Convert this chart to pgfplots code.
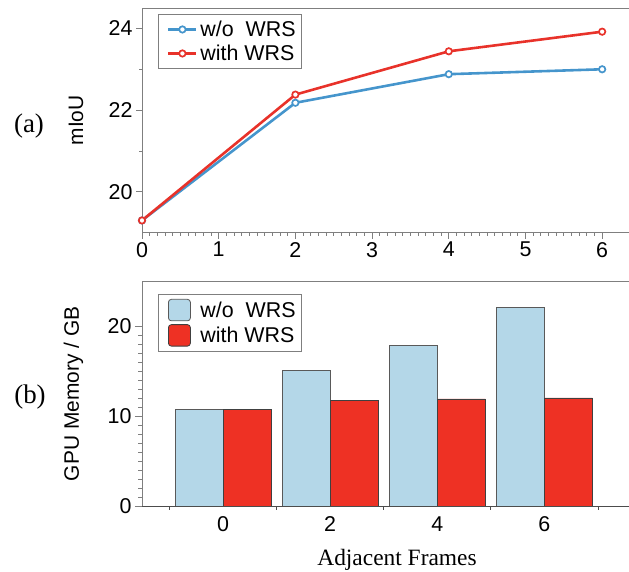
\documentclass[border=0pt]{standalone}
\usepackage{fontspec}
\setmainfont{Liberation Sans}
\newfontfamily\serif{Liberation Serif}
\usepackage{pgfplots}
\pgfplotsset{compat=1.18}
\definecolor{lblue}{HTML}{4595CC}
\definecolor{lred}{HTML}{E8322A}
\definecolor{bblue}{HTML}{B4D7E8}
\definecolor{bred}{HTML}{EE3124}
\definecolor{axgray}{HTML}{7F7F7F}
\begin{document}
\begin{tikzpicture}
\useasboundingbox (0bp,0bp) rectangle (629bp,572bp);
\pgfplotsset{
  common/.style={
    scale only axis,
    /pgf/number format/assume math mode=true,
    tick label style={font=\fontsize{21.5}{24}\selectfont},
    label style={font=\fontsize{21}{24}\selectfont},
    legend style={font=\fontsize{21.5}{24}\selectfont, draw=axgray, line width=0.8pt,
      inner xsep=4bp, inner ysep=4.5bp, row sep=3bp, legend cell align=left},
    tick align=outside,
    axis x line*=bottom, axis y line*=left,
    x axis line style={black!70, line width=0.8pt},
    y axis line style={axgray, line width=0.8pt},
    every tick/.style={axgray, line width=0.8pt},
  }
}
% ---------- (a) ----------
\begin{axis}[common,
  at={(142bp,339.3bp)}, anchor=south west,
  width=487bp, height=224.7bp,
  xmin=0, xmax=6.35, ymin=19, ymax=24.5,
  xtick={0,1,2,3,4,5,6}, minor x tick num=9,
  ytick={20,22,24}, minor y tick num=1,
  major tick length=6bp, minor tick length=3bp,
  x axis line style={axgray, line width=0.8pt},
  ylabel={mIoU},
  ylabel style={at={(axis description cs:-0.1355,0.5)}, anchor=center},
  legend style={at={(axis description cs:0.0329,0.973)}, anchor=north west},
  legend image code/.code={
    \path[draw=none, fill=none] (0bp,0bp) -- (36bp,0bp);
    \draw[#1, mark repeat=2, mark phase=2] plot coordinates {(6bp,0bp) (20bp,0bp) (34bp,0bp)};},
]
\draw[axgray, line width=0.8pt] (rel axis cs:0,1) -- (rel axis cs:1,1);
\addplot[lblue, line width=2.6pt, mark=*, mark size=3.2bp,
  mark options={fill=white, line width=1.7pt}]
  coordinates {(0,19.3) (2,22.18) (4,22.88) (6,23.0)};
\addlegendentry{w/o\ \ WRS}
\addplot[lred, line width=2.6pt, mark=*, mark size=3.2bp,
  mark options={fill=white, line width=1.7pt}]
  coordinates {(0,19.3) (2,22.38) (4,23.44) (6,23.92)};
\addlegendentry{with WRS}
\end{axis}
% ---------- (b) ----------
\begin{axis}[common,
  at={(142bp,66bp)}, anchor=south west,
  width=487bp, height=224.3bp,
  xmin=-0.757, xmax=3.79, ymin=0, ymax=25,
  ybar, bar width=48bp,
  xtick={0,1,2,3}, xticklabels={0,2,4,6},
  major x tick style={draw=none},
  minor xtick={-0.5,0.5,1.5,2.5,3.5},
  minor x tick style={black!70, line width=0.8pt},
  ytick={0,10,20}, minor y tick num=9,
  major tick length=7bp, minor tick length=4bp,
  ylabel={GPU Memory / GB},
  ylabel style={at={(axis description cs:-0.1407,0.5)}, anchor=center},
  legend style={at={(axis description cs:0.0329,0.945)}, anchor=north west},
  legend image code/.code={
    \path[draw=none, fill=none] (0bp,0bp) -- (36bp,0bp);
    \draw[#1, rounded corners=3bp] (6bp,-10.5bp) rectangle (28bp,11bp);},
]
\draw[axgray, line width=0.8pt] (rel axis cs:0,1) -- (rel axis cs:1,1);
\addplot[fill=bblue, draw=black!65, line width=0.8pt, bar shift=-24bp]
  coordinates {(0,10.78) (1,15.13) (2,17.87) (3,22.1)};
\addlegendentry{w/o\ \ WRS}
\addplot[fill=bred, draw=black!75, line width=0.8pt, bar shift=24bp]
  coordinates {(0,10.78) (1,11.78) (2,11.93) (3,12.04)};
\addlegendentry{with WRS}
\end{axis}
\node[font=\serif\fontsize{27}{30}\selectfont] at (29bp,446bp) {(a)};
\node[font=\serif\fontsize{27}{30}\selectfont] at (30bp,175bp) {(b)};
\node[font=\serif\fontsize{23.5}{27}\selectfont] at (397bp,12bp) {Adjacent Frames};
\end{tikzpicture}
\end{document}
